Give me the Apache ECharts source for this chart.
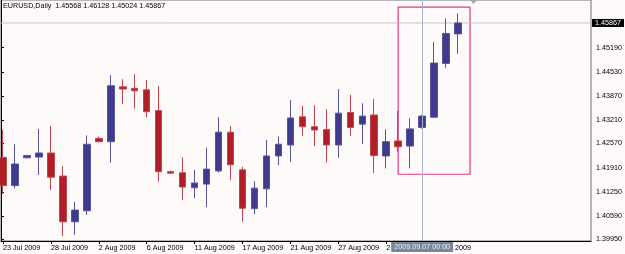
<!DOCTYPE html>
<html>
<head>
<meta charset="utf-8">
<title>EURUSD Daily</title>
<script src="https://cdn.jsdelivr.net/npm/echarts@6/dist/echarts.min.js"></script>
<style>
  html, body { margin: 0; padding: 0; background: #fffafa; }
  #chart { width: 625px; height: 254px; }
</style>
</head>
<body>
<div id="chart"></div>
<script>
// trading days shown on the chart (MT4 daily bars)
const dates = [
  "23 Jul 2009", "24 Jul 2009", "26 Jul 2009", "27 Jul 2009", "28 Jul 2009", "29 Jul 2009",
  "30 Jul 2009", "31 Jul 2009", "2 Aug 2009", "3 Aug 2009", "4 Aug 2009", "5 Aug 2009",
  "6 Aug 2009", "7 Aug 2009", "9 Aug 2009", "10 Aug 2009", "11 Aug 2009", "12 Aug 2009",
  "13 Aug 2009", "14 Aug 2009", "17 Aug 2009", "18 Aug 2009", "19 Aug 2009", "20 Aug 2009",
  "21 Aug 2009", "24 Aug 2009", "25 Aug 2009", "26 Aug 2009", "27 Aug 2009", "28 Aug 2009",
  "31 Aug 2009", "1 Sep 2009", "2 Sep 2009", "3 Sep 2009", "4 Sep 2009", "7 Sep 2009",
  "8 Sep 2009", "9 Sep 2009", "10 Sep 2009"
];
const opens = [
  1.4219, 1.4142, 1.4218, 1.4220, 1.4231, 1.4168, 1.4043, 1.4073, 1.4271, 1.4262,
  1.4412, 1.4408, 1.4404, 1.4347, 1.4180, 1.4177, 1.4136, 1.4146, 1.4182, 1.4288,
  1.4185, 1.4079, 1.4133, 1.4223, 1.4253, 1.4330, 1.4303, 1.4295, 1.4253, 1.4342,
  1.4310, 1.4335, 1.4223, 1.4264, 1.4250, 1.4301, 1.4329, 1.4476, 1.45568
];
const highs = [
  1.4294, 1.4255, 1.4226, 1.4297, 1.4305, 1.4195, 1.4097, 1.4279, 1.4276, 1.4444,
  1.4433, 1.4447, 1.4431, 1.4414, 1.4183, 1.4219, 1.4185, 1.4246, 1.4329, 1.4305,
  1.4193, 1.4154, 1.4267, 1.4276, 1.4376, 1.4360, 1.4362, 1.4351, 1.4406, 1.4390,
  1.4367, 1.4379, 1.4296, 1.4346, 1.4326, 1.4335, 1.4535, 1.4599, 1.46128
];
const lows = [
  1.4119, 1.4134, 1.4216, 1.4171, 1.4130, 1.4004, 1.4007, 1.4062, 1.4260, 1.4205,
  1.4365, 1.4353, 1.4329, 1.4153, 1.4174, 1.4102, 1.4107, 1.4083, 1.4178, 1.4157,
  1.4043, 1.4064, 1.4083, 1.4198, 1.4207, 1.4278, 1.4250, 1.4205, 1.4218, 1.4278,
  1.4255, 1.4176, 1.4189, 1.4235, 1.4189, 1.4298, 1.4327, 1.4464, 1.45024
];
const closes = [
  1.4142, 1.4201, 1.4224, 1.4231, 1.4165, 1.4043, 1.4075, 1.4255, 1.4262, 1.4415,
  1.4406, 1.4401, 1.4344, 1.4180, 1.4176, 1.4138, 1.4149, 1.4187, 1.4288, 1.4199,
  1.4080, 1.4135, 1.4223, 1.4255, 1.4327, 1.4303, 1.4294, 1.4253, 1.4340, 1.4301,
  1.4332, 1.4224, 1.4262, 1.4248, 1.4297, 1.4332, 1.4477, 1.4558, 1.45867
];
// price scale labels on the right
const priceTicks = [
  "1.39950", "1.40590", "1.41250", "1.41910", "1.42570",
  "1.43210", "1.43870", "1.44530", "1.45190"
];
const priceMin = 1.39904;
const priceMax = 1.46495;
const bidPrice = 1.45867;
// rectangle object drawn on the chart (bar index / price)
const boxStart = 33;
const boxEnd = 39;
const boxTop = 1.4630;
const boxBottom = 1.4173;
// crosshair
const cursorIndex = 35;
const cursorLabel = "2009.09.07 00:00";
const emptySlots = 11; // chart shift space on the right

const font = '"Liberation Sans Narrow", "Liberation Sans", Arial, sans-serif';
const fs = 7.2;

let categories = dates.concat(new Array(emptySlots).fill(""));
let ohlc = [];
for (let i = 0; i < dates.length; i++) {
  ohlc.push([opens[i], closes[i], lows[i], highs[i]]);
}
const last = dates.length - 1;
const titleText = "EURUSD,Daily  " +
  [opens[last], highs[last], lows[last], closes[last]].map((v) => v.toFixed(5)).join(" ");

let chart = echarts.init(document.getElementById("chart"));
chart.setOption({
  animation: false,
  backgroundColor: "#fffafa",
  title: {
    text: titleText,
    left: 3,
    top: 3,
    padding: 0,
    textStyle: { fontSize: fs, fontWeight: "normal", color: "#000", fontFamily: font },
  },
  grid: [
    // frame + price scale
    {
      left: 1, right: 31, top: 0, bottom: 13,
      show: true, borderColor: "#707070", borderWidth: 1,
      backgroundColor: "transparent",
    },
    // candles, 12px per bar
    { left: 1.8, top: 0, bottom: 13, width: 12 * (categories.length - 1) },
  ],
  xAxis: [
    {
      gridIndex: 0, type: "value", min: 0, max: 1,
      axisLine: { show: true, lineStyle: { color: "#000" } },
      axisTick: { show: false }, axisLabel: { show: false }, splitLine: { show: false },
    },
    {
      gridIndex: 1, type: "category", data: categories, boundaryGap: false,
      axisLine: { show: false },
      axisTick: {
        show: true, length: 3, interval: (i, v) => i % 4 === 0 && v !== "",
        lineStyle: { color: "#000" },
      },
      axisLabel: {
        interval: (i, v) => i % 4 === 0 && v !== "",
        align: "left", margin: 4, fontSize: fs, color: "#000", fontFamily: font,
      },
      splitLine: { show: false },
      axisPointer: {
        show: true, value: cursorIndex, status: "show", snap: true, triggerTooltip: false,
        lineStyle: { color: "#aab3c5", width: 1, type: "solid" },
        label: {
          show: true, formatter: () => cursorLabel, margin: 1,
          backgroundColor: "#778899", color: "#eef0f4", padding: [2, 3, 1, 3],
          fontSize: fs, fontFamily: font, borderRadius: 0,
        },
        handle: { show: false },
      },
    },
  ],
  yAxis: [
    {
      gridIndex: 0, type: "value", position: "right", min: priceMin, max: priceMax,
      axisLine: { show: true, lineStyle: { color: "#000" } },
      axisTick: {
        show: true, length: 3, customValues: priceTicks.map(Number),
        lineStyle: { color: "#000" },
      },
      axisLabel: {
        customValues: priceTicks.map(Number),
        formatter: (v) => v.toFixed(5),
        margin: 5, fontSize: fs, color: "#000", fontFamily: font,
      },
      splitLine: { show: false },
    },
    { gridIndex: 1, type: "value", min: priceMin, max: priceMax, show: false },
  ],
  series: [
    {
      name: "bid",
      type: "line",
      xAxisIndex: 0, yAxisIndex: 0,
      data: [[0, bidPrice], [1, bidPrice]],
      showSymbol: false, silent: true,
      lineStyle: { color: "#c4c4c4", width: 1 },
      endLabel: {
        show: true, formatter: () => bidPrice.toFixed(5), distance: 1,
        backgroundColor: "#000", color: "#fff", padding: [1, 3, 0, 3],
        fontSize: fs, fontFamily: font,
      },
      z: 1,
    },
    {
      name: "EURUSD",
      type: "candlestick",
      xAxisIndex: 1, yAxisIndex: 1,
      data: ohlc,
      barWidth: 7,
      clip: false,
      itemStyle: {
        color: "#3e3b8f",
        borderColor: "#57549e",
        color0: "#b01f27",
        borderColor0: "#c4454c",
        borderWidth: 1,
      },
      markArea: {
        silent: true,
        itemStyle: { color: "rgba(0,0,0,0)", borderColor: "#db3a84", borderWidth: 1.2 },
        data: [[{ xAxis: boxStart, yAxis: boxTop }, { xAxis: boxEnd, yAxis: boxBottom }]],
      },
      z: 3,
    },
  ],
  graphic: [
    // chart shift marker at the top
    {
      type: "polygon",
      shape: { points: [[470, 0], [477, 0], [473.5, 4]] },
      style: { fill: "#a8a8a8" },
    },
  ],
});
</script>
</body>
</html>
